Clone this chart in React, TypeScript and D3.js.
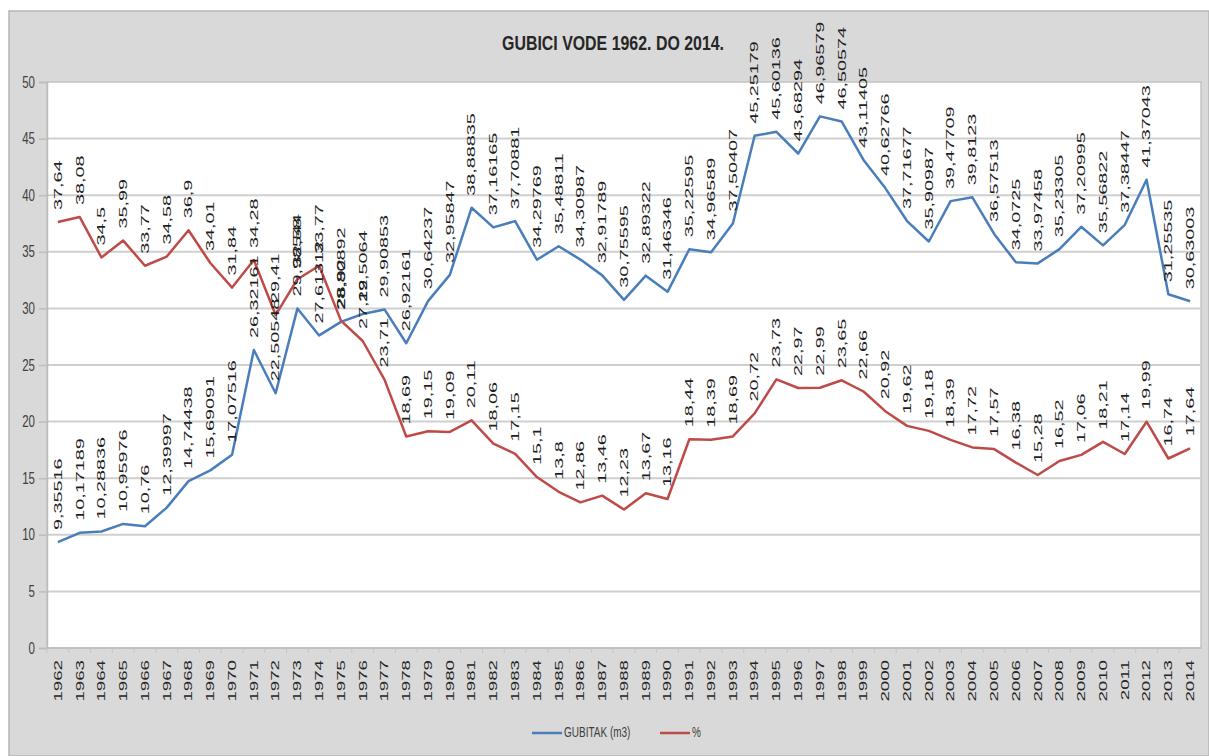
import React, { useRef, useEffect } from "react";
import * as d3 from "d3";

const years = [
  "1962", "1963", "1964", "1965", "1966", "1967", "1968", "1969", "1970", "1971",
  "1972", "1973", "1974", "1975", "1976", "1977", "1978", "1979", "1980", "1981",
  "1982", "1983", "1984", "1985", "1986", "1987", "1988", "1989", "1990", "1991",
  "1992", "1993", "1994", "1995", "1996", "1997", "1998", "1999", "2000", "2001",
  "2002", "2003", "2004", "2005", "2006", "2007", "2008", "2009", "2010", "2011",
  "2012", "2013", "2014",
];

// GUBITAK (m3)
const gubitak = [
  9.35516, 10.17189, 10.28836, 10.95976, 10.76, 12.39997, 14.74438, 15.69091, 17.07516, 26.32161,
  22.50548, 29.98544, 27.61312, 28.80892, 29.5064, 29.90853, 26.92161, 30.64237, 32.95847, 38.88835,
  37.16165, 37.70881, 34.29769, 35.48811, 34.30987, 32.91789, 30.75595, 32.89322, 31.46346, 35.22595,
  34.96589, 37.50407, 45.25179, 45.60136, 43.68294, 46.96579, 46.50574, 43.11405, 40.62766, 37.71677,
  35.90987, 39.47709, 39.8123, 36.57513, 34.0725, 33.97458, 35.23305, 37.20995, 35.56822, 37.38447,
  41.37043, 31.25535, 30.63003,
];

// %
const procent = [
  37.64, 38.08, 34.5, 35.99, 33.77, 34.58, 36.9, 34.01, 31.84, 34.28,
  29.41, 32.58, 33.77, 28.92, 27.12, 23.71, 18.69, 19.15, 19.09, 20.11,
  18.06, 17.15, 15.1, 13.8, 12.86, 13.46, 12.23, 13.67, 13.16, 18.44,
  18.39, 18.69, 20.72, 23.73, 22.97, 22.99, 23.65, 22.66, 20.92, 19.62,
  19.18, 18.39, 17.72, 17.57, 16.38, 15.28, 16.52, 17.06, 18.21, 17.14,
  19.99, 16.74, 17.64,
];

const yTicks = [0, 5, 10, 15, 20, 25, 30, 35, 40, 45, 50];
const TITLE = "GUBICI VODE 1962. DO 2014.";

const W = 1209;
const H = 756;
const PLOT = { LEFT: 47, RIGHT: 1201, TOP: 82, BOTTOM: 648 };
const FONT = "'Liberation Sans', Arial, sans-serif";
const BLUE = "#4a7ebb";
const RED = "#be4b48";

const fmt = (v: number) => String(v).replace(".", ",");

const drawChart = (element: HTMLDivElement) => {
  d3.select(element).selectAll("*").remove();

  const svg = d3
    .select(element)
    .append("svg")
    .attr("width", W)
    .attr("height", H)
    .style("display", "block")
    .style("font-family", FONT);

  // background frame
  svg.append("rect").attr("width", W).attr("height", H).attr("fill", "#fff");
  svg.append("rect")
    .attr("x", 9).attr("y", 11)
    .attr("width", W - 9).attr("height", H - 11)
    .attr("fill", "#d9d9d9")
    .attr("stroke", "#b5b5b5").attr("stroke-width", 1.5);

  svg.append("rect")
    .attr("x", PLOT.LEFT).attr("y", PLOT.TOP)
    .attr("width", PLOT.RIGHT - PLOT.LEFT).attr("height", PLOT.BOTTOM - PLOT.TOP)
    .attr("fill", "#fff")
    .attr("stroke", "#c4c4c4").attr("stroke-width", 1.5);

  const x = d3.scaleBand().domain(years).range([PLOT.LEFT, PLOT.RIGHT]);
  const cx = (d: string) => (x(d) as number) + x.bandwidth() / 2;

  const y = d3.scaleLinear().domain([0, 50]).range([PLOT.BOTTOM, PLOT.TOP]);

  // grid lines
  svg.append("g")
    .selectAll("line")
    .data(yTicks.slice(1, -1))
    .join("line")
    .attr("x1", PLOT.LEFT).attr("x2", PLOT.RIGHT)
    .attr("y1", d => y(d)).attr("y2", d => y(d))
    .attr("stroke", "#cfcfcf").attr("stroke-width", 2);

  // y axis
  const yAxis = svg.append("g")
    .attr("transform", `translate(${PLOT.LEFT},0)`)
    .call(d3.axisLeft(y).tickValues(yTicks).tickSize(8).tickFormat(d => String(d)));
  yAxis.select(".domain").attr("stroke", "#bdbdbd").attr("stroke-width", 1.5);
  yAxis.selectAll(".tick line").attr("stroke", "#bdbdbd").attr("stroke-width", 1.5);
  yAxis.selectAll(".tick text")
    .attr("x", 0).attr("dy", 0)
    .attr("transform", "translate(-12,5) scale(1,1.5)")
    .attr("font-size", 11.5)
    .attr("font-family", FONT)
    .attr("fill", "#404040");

  // x axis line + ticks
  svg.append("line")
    .attr("x1", PLOT.LEFT).attr("x2", PLOT.RIGHT)
    .attr("y1", PLOT.BOTTOM).attr("y2", PLOT.BOTTOM)
    .attr("stroke", "#bdbdbd").attr("stroke-width", 1.5);
  svg.append("g")
    .selectAll("line")
    .data(years)
    .join("line")
    .attr("x1", d => x(d) as number).attr("x2", d => x(d) as number)
    .attr("y1", PLOT.BOTTOM).attr("y2", PLOT.BOTTOM + 5)
    .attr("stroke", "#c4c4c4");

  svg.append("g")
    .selectAll("text")
    .data(years)
    .join("text")
    .attr("transform", d => `translate(${cx(d)},${PLOT.BOTTOM + 12}) rotate(-90) scale(1.7,1)`)
    .attr("dy", "0.35em")
    .attr("text-anchor", "end")
    .attr("font-size", 11)
    .attr("fill", "#262626")
    .text(d => d);

  // lines
  const line = d3.line<number>()
    .x((_, i) => cx(years[i]))
    .y(d => y(d));

  svg.append("path")
    .datum(gubitak)
    .attr("d", line)
    .attr("fill", "none")
    .attr("stroke", BLUE)
    .attr("stroke-width", 2.5)
    .attr("stroke-linejoin", "round");

  svg.append("path")
    .datum(procent)
    .attr("d", line)
    .attr("fill", "none")
    .attr("stroke", RED)
    .attr("stroke-width", 2.5)
    .attr("stroke-linejoin", "round");

  // data labels
  const labels = (values: number[]) =>
    svg.append("g")
      .selectAll("text")
      .data(values)
      .join("text")
      .attr("transform", (d, i) => `translate(${cx(years[i])},${y(d) - 12}) rotate(-90) scale(1.8,1)`)
      .attr("dy", "0.35em")
      .attr("text-anchor", "start")
      .attr("font-size", 11)
      .attr("fill", "#1e1e1e")
      .text(d => fmt(d));

  labels(gubitak);
  labels(procent);

  // title
  svg.append("text")
    .attr("transform", "translate(613,50) scale(1,1.6)")
    .attr("text-anchor", "middle")
    .attr("font-size", 13)
    .attr("font-weight", "bold")
    .attr("fill", "#262626")
    .attr("textLength", 222)
    .attr("lengthAdjust", "spacingAndGlyphs")
    .text(TITLE);

  // legend
  const legend = svg.append("g").attr("transform", "translate(0,733)");
  legend.append("line")
    .attr("x1", 532).attr("x2", 562).attr("y1", 0).attr("y2", 0)
    .attr("stroke", BLUE).attr("stroke-width", 2.5);
  legend.append("text")
    .attr("transform", "translate(564,4) scale(1,1.5)")
    .attr("font-size", 10)
    .attr("fill", "#404040")
    .text("GUBITAK (m3)");
  legend.append("line")
    .attr("x1", 660).attr("x2", 690).attr("y1", 0).attr("y2", 0)
    .attr("stroke", RED).attr("stroke-width", 2.5);
  legend.append("text")
    .attr("transform", "translate(692,4) scale(1,1.5)")
    .attr("font-size", 10)
    .attr("fill", "#404040")
    .text("%");
};

const App = () => {
  const chartRef = useRef<HTMLDivElement>(null);

  useEffect(() => {
    document.body.style.margin = "0";
    if (chartRef.current) drawChart(chartRef.current);
  }, []);

  return <div ref={chartRef}></div>;
};

export default App;
